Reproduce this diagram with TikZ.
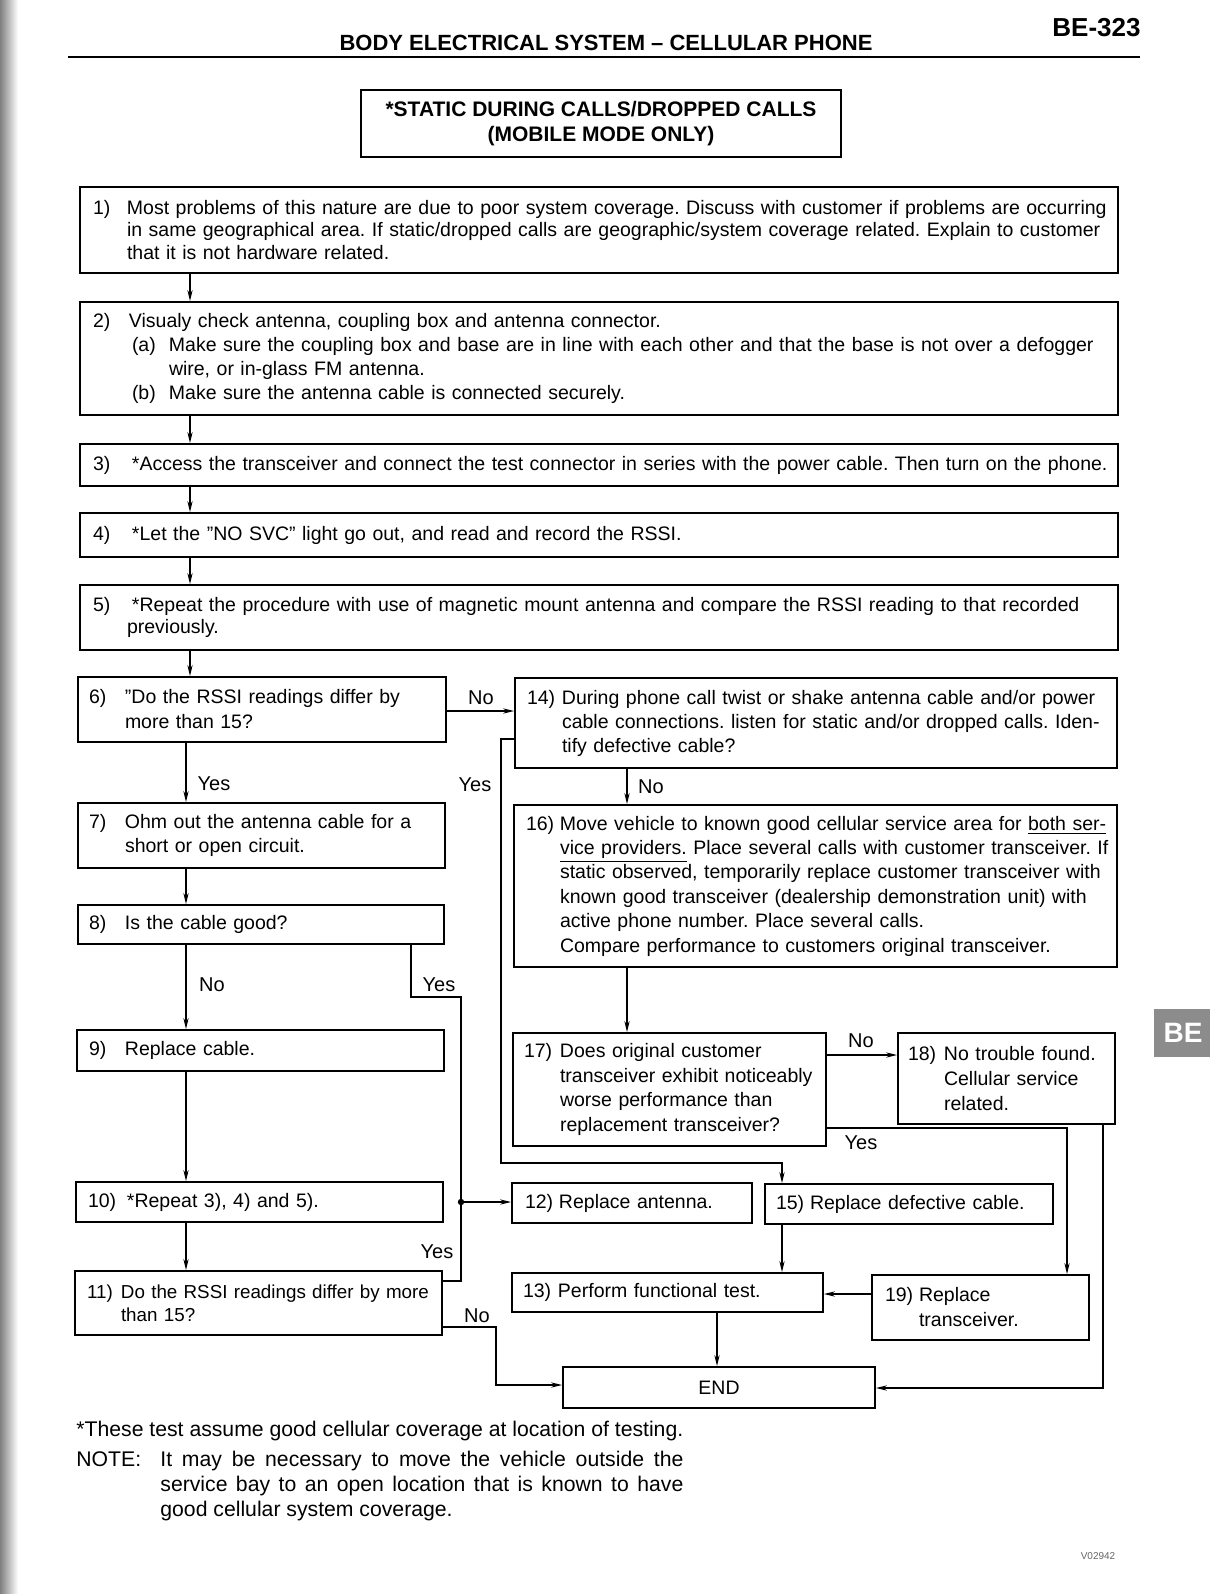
\documentclass[tikz,border=0pt]{standalone}
\usepackage{fontspec}
\setmainfont{Liberation Sans}
\usetikzlibrary{arrows.meta}
\newcommand\nl[3]{\makebox[#1][l]{#2}\mbox{#3}}
\newcommand\cl[2]{\hspace*{#1}\mbox{#2}}
\AtBeginDocument{\frenchspacing}
\begin{document}
\begin{tikzpicture}[x=0.5pt,y=-0.5pt,
  box/.style={draw, line width=0.9pt, inner ysep=0pt, align=left, font=\fontsize{9.75}{12}\selectfont},
  conn/.style={line width=0.7pt},
  arr/.style={conn, -{Stealth[length=5.5pt,width=2.6pt]}},
  lbl/.style={inner sep=0pt, font=\fontsize{10}{12}\selectfont},
  note/.style={inner sep=0pt, anchor=base west, font=\fontsize{10.6}{12.5}\selectfont}
]
\useasboundingbox (0,0) rectangle (1210,1594);
\fill[white] (0,0) rectangle (1210,1594);
\shade[left color=black!50, right color=white] (0,0) rectangle (18,1594);

% header
\node[inner sep=0pt, font=\bfseries\fontsize{11}{13}\selectfont] (hdr) at (606,43) {BODY ELECTRICAL SYSTEM – CELLULAR PHONE};
\node[inner sep=0pt, anchor=east, font=\bfseries\fontsize{13}{15}\selectfont] (pg) at (1141,28) {BE-323};
\draw[line width=1.4pt] (68,57) -- (1140,57);

% title
\node[box, align=center, font=\bfseries\fontsize{10.5}{12.5}\selectfont, minimum width=240pt, minimum height=33.5pt] (title) at (601,123.5) {*STATIC DURING CALLS/DROPPED CALLS\\(MOBILE MODE ONLY)};

% top boxes
\node[box, inner xsep=6.5pt, text width=506pt, minimum height=43pt, font=\fontsize{9.75}{11.3}\selectfont] (b1) at (599,230) {\nl{17pt}{1)}{Most problems of this nature are due to poor system coverage. Discuss with customer if problems are occurring}\\\cl{17pt}{in same geographical area. If static/dropped calls are geographic/system coverage related. Explain to customer}\\\cl{17pt}{that it is not hardware related.}};
\node[box, inner xsep=6.5pt, text width=506pt, minimum height=56.5pt] (b2) at (599,358.5) {\nl{18pt}{2)}{Visualy check antenna, coupling box and antenna connector.}\\\cl{19.5pt}{\makebox[18.5pt][l]{(a)}Make sure the coupling box and base are in line with each other and that the base is not over a defogger}\\\cl{38pt}{wire, or in-glass FM antenna.}\\\cl{19.5pt}{\makebox[18.5pt][l]{(b)}Make sure the antenna cable is connected securely.}};
\node[box, inner xsep=6.5pt, text width=506pt, minimum height=21pt] (b3) at (599,465) {\nl{19.5pt}{3)}{*Access the transceiver and connect the test connector in series with the power cable. Then turn on the phone.}};
\node[box, inner xsep=6.5pt, text width=506pt, minimum height=22pt] (b4) at (599,535) {\nl{19.5pt}{4)}{*Let the ''NO SVC'' light go out, and read and record the RSSI.}};
\node[box, inner xsep=6.5pt, text width=506pt, minimum height=32.5pt, font=\fontsize{9.75}{11}\selectfont] (b5) at (599,617.5) {\nl{19.5pt}{5)}{*Repeat the procedure with use of magnetic mount antenna and compare the RSSI reading to that recorded}\\\cl{17pt}{previously.}};

% left column
\node[box, inner xsep=5.5pt, text width=173pt, minimum height=32.5pt, font=\fontsize{9.75}{12.5}\selectfont] (b6) at (262,709.5) {\nl{18pt}{6)}{''Do the RSSI readings differ by}\\\cl{18pt}{more than 15?}};
\node[box, inner xsep=5.5pt, text width=172.5pt, minimum height=32.5pt] (b7) at (261.5,835.5) {\nl{18pt}{7)}{Ohm out the antenna cable for a}\\\cl{18pt}{short or open circuit.}};
\node[box, inner xsep=5.5pt, text width=172pt, minimum height=19.5pt] (b8) at (261,924.5) {\nl{18pt}{8)}{Is the cable good?}};
\node[box, inner xsep=6pt, text width=171.5pt, minimum height=20.5pt] (b9) at (260.5,1050.5) {\nl{18pt}{9)}{Replace cable.}};
\node[box, inner xsep=6pt, text width=171.5pt, minimum height=20pt] (b10) at (259.5,1202) {\nl{19.5pt}{10)}{*Repeat 3), 4) and 5).}};
\node[box, inner xsep=6pt, text width=171.5pt, minimum height=32pt, font=\fontsize{9.4}{11.5}\selectfont] (b11) at (258.5,1303) {\nl{17pt}{11)}{Do the RSSI readings differ by more}\\\cl{17pt}{than 15?}};

% right column
\node[box, inner xsep=6pt, text width=289pt, minimum height=45pt] (b14) at (816,723) {\nl{17.5pt}{14)}{During phone call twist or shake antenna cable and/or power}\\\cl{17.5pt}{cable connections. listen for static and/or dropped calls. Iden-}\\\cl{17.5pt}{tify defective cable?}};
\node[box, inner xsep=6pt, text width=289.5pt, minimum height=81pt, font=\fontsize{9.75}{12.2}\selectfont] (b16) at (815.5,886) {\nl{17pt}{16)}{Move vehicle to known good cellular service area for \underline{both ser-}}\\\cl{17pt}{\underline{vice providers.} Place several calls with customer transceiver. If}\\\cl{17pt}{static observed, temporarily replace customer transceiver with}\\\cl{17pt}{known good transceiver (dealership demonstration unit) with}\\\cl{17pt}{active phone number. Place several calls.}\\\cl{17pt}{Compare performance to customers original transceiver.}};
\node[box, inner xsep=5.5pt, text width=145.5pt, minimum height=56.5pt, font=\fontsize{9.75}{12.3}\selectfont] (b17) at (669.5,1089.5) {\nl{18pt}{17)}{Does original customer}\\\cl{18pt}{transceiver exhibit noticeably}\\\cl{18pt}{worse performance than}\\\cl{18pt}{replacement transceiver?}};
\node[box, inner xsep=5pt, text width=98.5pt, minimum height=45.5pt, font=\fontsize{9.75}{12.3}\selectfont] (b18) at (1006.5,1078.5) {\nl{18pt}{18)}{No trouble found.}\\\cl{18pt}{Cellular service}\\\cl{18pt}{related.}};
\node[box, inner xsep=6.5pt, text width=107pt, minimum height=20pt] (b12) at (632,1203) {\nl{17pt}{12)}{Replace antenna.}};
\node[box, inner xsep=5.5pt, text width=133pt, minimum height=20pt] (b15) at (909,1204) {\nl{17pt}{15)}{Replace defective cable.}};
\node[box, inner xsep=5.5pt, text width=144.5pt, minimum height=19.5pt] (b13) at (667.5,1292.5) {\nl{17.5pt}{13)}{Perform functional test.}};
\node[box, inner xsep=6.5pt, text width=95.5pt, minimum height=32.5pt, font=\fontsize{9.75}{12.5}\selectfont] (b19) at (980.5,1307.5) {\nl{17pt}{19)}{Replace}\\\cl{17pt}{transceiver.}};
\node[box, align=center, minimum width=156pt, minimum height=20.5pt] (bend) at (719,1387.5) {END};

% helper coordinates
\coordinate (xA) at (190,0);
\coordinate (xB) at (186,0);
\coordinate (xC) at (627,0);
\coordinate (xD) at (717,0);
\coordinate (y6n) at (0,711);
\coordinate (p14a) at (501,739);
\coordinate (p14b) at (782,1163);
\coordinate (y17n) at (0,1055);
\coordinate (p17y) at (1067,1128);
\coordinate (p18) at (1103,1388);
\coordinate (y19) at (0,1294);
\coordinate (p8a) at (411,997);
\coordinate (jn) at (461,1202);
\coordinate (y11y) at (0,1281);
\coordinate (p11n) at (496,1327);
\coordinate (y11e) at (0,1385);

% connectors
\draw[arr] (b1.south -| xA) -- (b2.north -| xA);
\draw[arr] (b2.south -| xA) -- (b3.north -| xA);
\draw[arr] (b3.south -| xA) -- (b4.north -| xA);
\draw[arr] (b4.south -| xA) -- (b5.north -| xA);
\draw[arr] (b5.south -| xA) -- (b6.north -| xA);
\draw[arr] (b6.south -| xB) -- (b7.north -| xB);
\draw[arr] (b7.south -| xB) -- (b8.north -| xB);
\draw[arr] (b8.south -| xB) -- (b9.north -| xB);
\draw[arr] (b9.south -| xB) -- (b10.north -| xB);
\draw[arr] (b10.south -| xB) -- (b11.north -| xB);
\draw[arr] (b6.east |- y6n) -- (b14.west |- y6n);
\draw[arr] (b14.west |- p14a) -- (p14a) |- (p14b) -- (b15.north -| p14b);
\draw[arr] (b14.south -| xC) -- (b16.north -| xC);
\draw[arr] (b16.south -| xC) -- (b17.north -| xC);
\draw[arr] (b17.east |- y17n) -- (b18.west |- y17n);
\draw[arr] (b17.east |- p17y) -- (p17y) -- (b19.north -| p17y);
\draw[arr] (b18.south -| p18) -- (p18) -- (bend.east |- p18);
\draw[arr] (b19.west |- y19) -- (b13.east |- y19);
\draw[arr] (b15.south -| p14b) -- (b13.north -| p14b);
\draw[arr] (b13.south -| xD) -- (bend.north -| xD);
\draw[conn] (b8.south -| p8a) -- (p8a) -| (jn);
\draw[conn] (b11.east |- y11y) -| (jn);
\fill (jn) circle (1.6pt);
\draw[arr] (jn) -- (b12.west |- jn);
\draw[arr] (b11.east |- p11n) -- (p11n) |- (bend.west |- y11e);

% labels
\node[lbl] (l6n) at (481,698) {No};
\node[lbl] (l6y) at (214,784) {Yes};
\node[lbl] (l14y) at (475,785) {Yes};
\node[lbl] (l14n) at (651,787) {No};
\node[lbl] (l8n) at (212,985) {No};
\node[lbl] (l8y) at (439,985) {Yes};
\node[lbl] (l17n) at (861,1041) {No};
\node[lbl] (l17y) at (861,1143) {Yes};
\node[lbl] (l11y) at (437,1252) {Yes};
\node[lbl] (l11n) at (477,1316) {No};

% notes
\node[note] (n1) at (76,1436) {*These test assume good cellular coverage at location of testing.};
\node[note] (n2) at (76,1466) {NOTE:};
\node[note] (n3) at (160,1466) {\makebox[261.5pt][s]{It may be necessary to move the vehicle outside the}};
\node[note] (n4) at (160,1491) {\makebox[261.5pt][s]{service bay to an open location that is known to have}};
\node[note] (n5) at (160,1516) {good cellular system coverage.};

% side tab and code
\fill[black!45] (1154,1009) rectangle (1210,1057);
\node[inner sep=0pt, text=white, font=\bfseries\fontsize{14}{16}\selectfont] (tab) at (1183,1033) {BE};
\node[inner sep=0pt, text=black!60, font=\fontsize{5}{6}\selectfont] (code) at (1098,1556) {V02942};
\end{tikzpicture}
\end{document}
